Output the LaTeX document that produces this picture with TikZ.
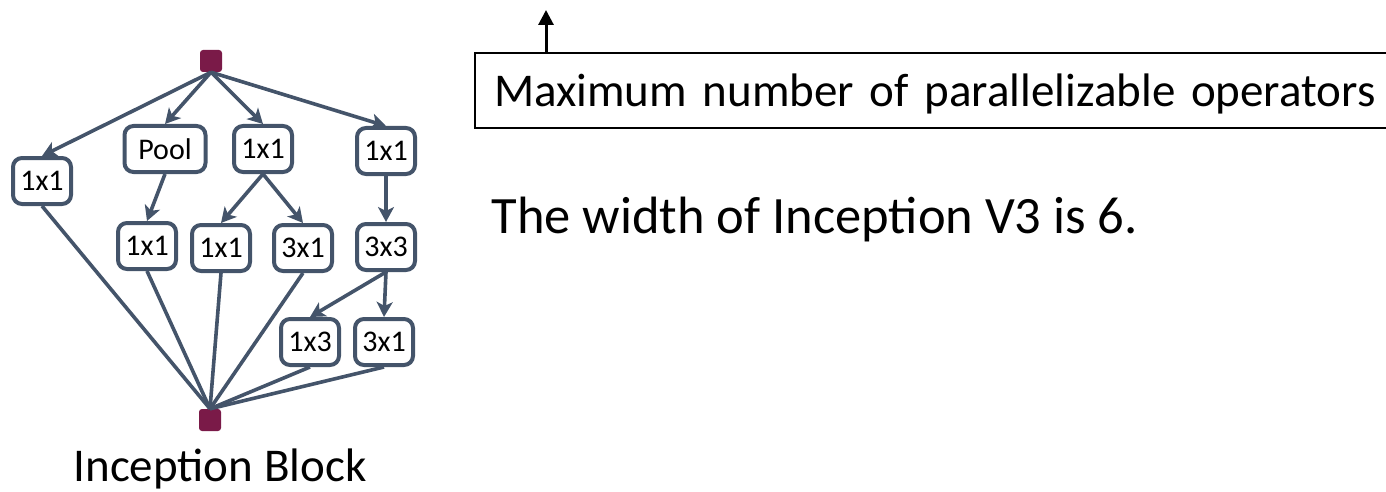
\documentclass[tikz,border=0pt]{standalone}
\usepackage{fontspec}
\setmainfont{Carlito}
\usetikzlibrary{positioning,arrows.meta}
\definecolor{slate}{HTML}{44546A}
\definecolor{plum}{HTML}{7A1A48}

\begin{document}
\begin{tikzpicture}[x=1pt,y=-1pt,
  op/.style={rectangle,rounded corners=9pt,draw=slate,line width=4pt,fill=white,minimum width=58pt,minimum height=46pt,inner sep=0pt,font=\fontsize{30}{36}\selectfont},
  port/.style={rectangle,rounded corners=3pt,fill=plum,minimum size=22pt,inner sep=0pt},
  flow/.style={draw=slate,line width=3.6pt,-{Stealth[length=15pt,width=16pt,inset=4pt]}},
  merge/.style={draw=slate,line width=3.6pt}]
\useasboundingbox (0,0) rectangle (1386,492);
\clip (0,0) rectangle (1386,492);
% inception block
\node[port] (in) at (211,61) {};
\node[port] (out) at (210,420) {};
\node[op] (a1) at (42,181) {1x1};
\node[op,minimum width=81pt] (pool) at (165,149) {Pool};
\node[op] (b1) at (263,149) {1x1};
\node[op] (c1) at (386,151) {1x1};
\node[op] (a2) at (147,246) {1x1};
\node[op] (b2) at (221,248) {1x1};
\node[op] (b3) at (303,248) {3x1};
\node[op] (c2) at (386,247) {3x3};
\node[op] (c3) at (310,342) {1x3};
\node[op] (c4) at (384,342) {3x1};
\foreach \to in {a1,pool,b1,c1}
  \draw[flow] (in.south) -- (\to.north);
\foreach \from/\to in {pool/a2,b1/b2,b1/b3,c1/c2,c2/c3,c2/c4}
  \draw[flow] (\from.south) -- (\to.north);
\foreach \from in {a1,a2,b2,b3,c3,c4}
  \draw[merge] (\from.south) -- (out.north);
\node[anchor=base,font=\fontsize{47}{56}\selectfont] (caption) at (220,481) {Inception Block};
% definition box
\node[draw,line width=2pt,anchor=base west,text width=940pt,align=left,inner xsep=19pt,inner ysep=0pt,text height=54pt,text depth=21pt,font=\fontsize{47}{56}\selectfont] (maxbox) at (474,107) {Maximum number of parallelizable operators};
\coordinate (peak) at (546,10);
\draw[line width=3pt,-{Triangle[length=15pt,width=15pt]}] (maxbox.north west -| peak) -- (peak);
\node[anchor=base west,font=\fontsize{52.5}{60}\selectfont] (width) at (488,233) {The width of Inception V3 is 6.};
\end{tikzpicture}
\end{document}
